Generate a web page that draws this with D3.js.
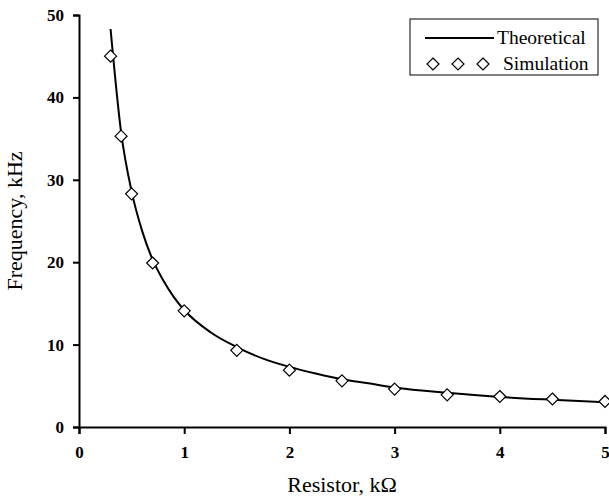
<!DOCTYPE html>
<html>
<head>
<meta charset="utf-8">
<script src="https://cdn.jsdelivr.net/npm/d3@7"></script>
<style>
  body { margin: 0; background: #fff; }
  svg text { font-family: "Liberation Serif", "Times New Roman", serif; }
</style>
</head>
<body>
<div id="chart"></div>
<script>
// theoretical curve
var theoR = [0.3, 0.4, 0.5, 0.6, 0.7, 0.8, 0.9, 1.0, 1.25, 1.5, 1.75, 2.0, 2.25, 2.5, 2.75, 3.0, 3.5, 4.0, 4.5, 5.0];
var theoF = [48.3, 35.8, 28.6, 23.8, 20.3, 17.8, 15.8, 14.2, 11.5, 9.7, 8.3, 7.3, 6.5, 5.8, 5.3, 4.8, 4.15, 3.65, 3.3, 3.0];

// simulation points
var simR = [0.3, 0.4, 0.5, 0.7, 1.0, 1.5, 2.0, 2.5, 3.0, 3.5, 4.0, 4.5, 5.0];
var simF = [45.0, 35.3, 28.3, 19.9, 14.1, 9.3, 6.9, 5.6, 4.6, 3.9, 3.7, 3.4, 3.1];

var xTicks = [0, 1, 2, 3, 4, 5];
var yTicks = [0, 10, 20, 30, 40, 50];

var margin = { top: 15, right: 4, bottom: 73, left: 79 },
  width = 609 - margin.left - margin.right,
  height = 500 - margin.top - margin.bottom;

var svg = d3
  .select("#chart")
  .append("svg")
  .attr("width", 609)
  .attr("height", 500)
  .append("g")
  .attr("transform", "translate(" + margin.left + "," + margin.top + ")");

var x = d3.scaleLinear().domain([0, 5]).range([0, width]);
var y = d3.scaleLinear().domain([0, 50]).range([height, 0]);

// X axis
var xAxis = svg
  .append("g")
  .attr("transform", "translate(0," + height + ")")
  .call(d3.axisBottom(x).tickValues(xTicks).tickSize(7).tickPadding(12).tickFormat(d3.format("d")));

// Y axis
var yAxis = svg
  .append("g")
  .call(d3.axisLeft(y).tickValues(yTicks).tickSize(6).tickPadding(9).tickFormat(d3.format("d")));

[xAxis, yAxis].forEach(function (a) {
  a.select(".domain").attr("stroke", "#000").attr("stroke-width", 2);
  a.selectAll(".tick line").attr("stroke", "#000").attr("stroke-width", 2);
  a.selectAll(".tick text")
    .attr("fill", "#000")
    .style("font-family", "'Liberation Serif', serif")
    .style("font-weight", "bold")
    .style("font-size", "17px");
});

// theoretical line
var theo = theoR.map(function (r, i) {
  return { r: r, f: theoF[i] };
});
svg
  .append("path")
  .datum(theo)
  .attr("fill", "none")
  .attr("stroke", "#000")
  .attr("stroke-width", 2)
  .attr(
    "d",
    d3
      .line()
      .x(function (d) { return x(d.r); })
      .y(function (d) { return y(d.f); })
      .curve(d3.curveMonotoneX)
  );

// simulation diamonds
var dm = 6;
function diamond(cx, cy) {
  return "M" + cx + "," + (cy - dm) + "L" + (cx + dm) + "," + cy + "L" + cx + "," + (cy + dm) + "L" + (cx - dm) + "," + cy + "Z";
}
svg
  .selectAll(".sim")
  .data(simR)
  .enter()
  .append("path")
  .attr("class", "sim")
  .attr("d", function (d, i) {
    return diamond(x(d), y(simF[i]));
  })
  .attr("fill", "#fff")
  .attr("stroke", "#000")
  .attr("stroke-width", 1.2);

// axis titles
svg
  .append("text")
  .attr("text-anchor", "middle")
  .attr("x", width / 2)
  .attr("y", height + 65)
  .style("font-size", "22px")
  .text("Resistor, k\u03A9");

svg
  .append("text")
  .attr("text-anchor", "middle")
  .attr("transform", "rotate(-90)")
  .attr("x", -height / 2)
  .attr("y", -57)
  .style("font-size", "22px")
  .text("Frequency, kHz");

// legend
var lg = svg.append("g").attr("transform", "translate(" + (410 - margin.left) + "," + (19 - margin.top) + ")");
lg.append("rect")
  .attr("width", 188)
  .attr("height", 56)
  .attr("fill", "#fff")
  .attr("stroke", "#000")
  .attr("stroke-width", 1);
lg.append("line")
  .attr("x1", 15)
  .attr("x2", 84)
  .attr("y1", 19)
  .attr("y2", 19)
  .attr("stroke", "#000")
  .attr("stroke-width", 2);
lg.append("text").attr("x", 87).attr("y", 25).style("font-size", "19.5px").text("Theoretical");
[23, 48, 73].forEach(function (cx) {
  lg.append("path")
    .attr("d", diamond(cx, 45))
    .attr("fill", "#fff")
    .attr("stroke", "#000")
    .attr("stroke-width", 1.2);
});
lg.append("text").attr("x", 93).attr("y", 51).style("font-size", "19.5px").text("Simulation");
</script>
</body>
</html>
